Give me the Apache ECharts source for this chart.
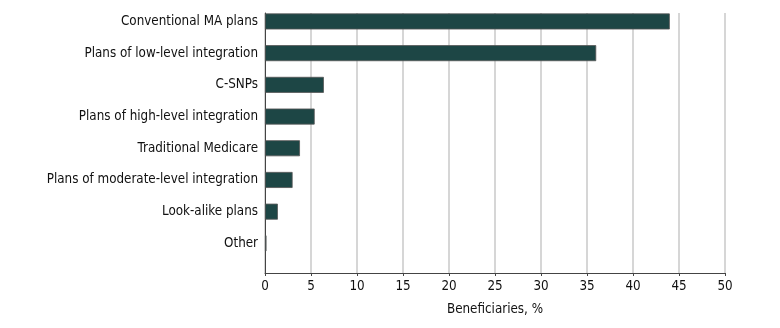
<!DOCTYPE html>
<html>
<head>
<meta charset="utf-8">
<script src="https://cdn.jsdelivr.net/npm/echarts@6/dist/echarts.min.js"></script>
<style>
  html, body { margin: 0; padding: 0; background: #fff; }
  #chart-container { width: 780px; height: 328px; }
</style>
</head>
<body>
<div id="chart-container"></div>
<script>
// categories listed bottom -> top (category axis on y runs upward)
let categories = [
    'Other',
    'Look-alike plans',
    'Plans of moderate-level integration',
    'Traditional Medicare',
    'Plans of high-level integration',
    'C-SNPs',
    'Plans of low-level integration',
    'Conventional MA plans'
]
let beneficiaries = [0.1, 1.4, 3.0, 3.8, 5.4, 6.4, 36, 44]
let xTicks = [0, 5, 10, 15, 20, 25, 30, 35, 40, 45, 50]

let dom = document.getElementById('chart-container')
let myChart = echarts.init(dom, null, { renderer: 'canvas' })

let font = '"DejaVu Sans Condensed", "DejaVu Sans", sans-serif'
let option = {
    animation: false,
    grid: [
        // bars
        { left: 265, width: 460, top: 5.6, height: 253.6 },
        // grid lines + x axis
        { left: 265, width: 460, top: 13, height: 260 }
    ],
    xAxis: [
        {
            gridIndex: 0, type: 'value', min: 0, max: 50, interval: 5,
            show: false
        },
        {
            gridIndex: 1, type: 'value', min: xTicks[0], max: xTicks[xTicks.length - 1], interval: 5,
            axisLine: { show: true, lineStyle: { color: '#444', width: 1 } },
            axisTick: { show: true, length: 3, lineStyle: { color: '#444' } },
            axisLabel: { color: '#111', fontSize: 13.3, fontFamily: font, margin: 7 },
            splitLine: { show: true, lineStyle: { color: '#c8c8c8', width: 1.5 } },
            name: 'Beneficiaries, %',
            nameLocation: 'middle',
            nameGap: 30,
            nameTextStyle: { color: '#111', fontSize: 13.3, fontFamily: font }
        }
    ],
    yAxis: [
        {
            gridIndex: 0, type: 'category', data: categories,
            axisLine: { show: false },
            axisTick: { show: false },
            axisLabel: { color: '#111', fontSize: 13.3, fontFamily: font, margin: 7 }
        },
        {
            gridIndex: 1, type: 'value', min: 0, max: 1,
            axisLine: { show: true, lineStyle: { color: '#444', width: 1 } },
            axisTick: { show: false },
            axisLabel: { show: false },
            splitLine: { show: false }
        }
    ],
    series: [
        {
            type: 'bar',
            xAxisIndex: 0,
            yAxisIndex: 0,
            data: beneficiaries,
            barWidth: 16,
            barMinHeight: 1.5,
            itemStyle: { color: '#1d4645', borderColor: '#555', borderWidth: 0.8 }
        }
    ]
}
myChart.setOption(option)
</script>
</body>
</html>
